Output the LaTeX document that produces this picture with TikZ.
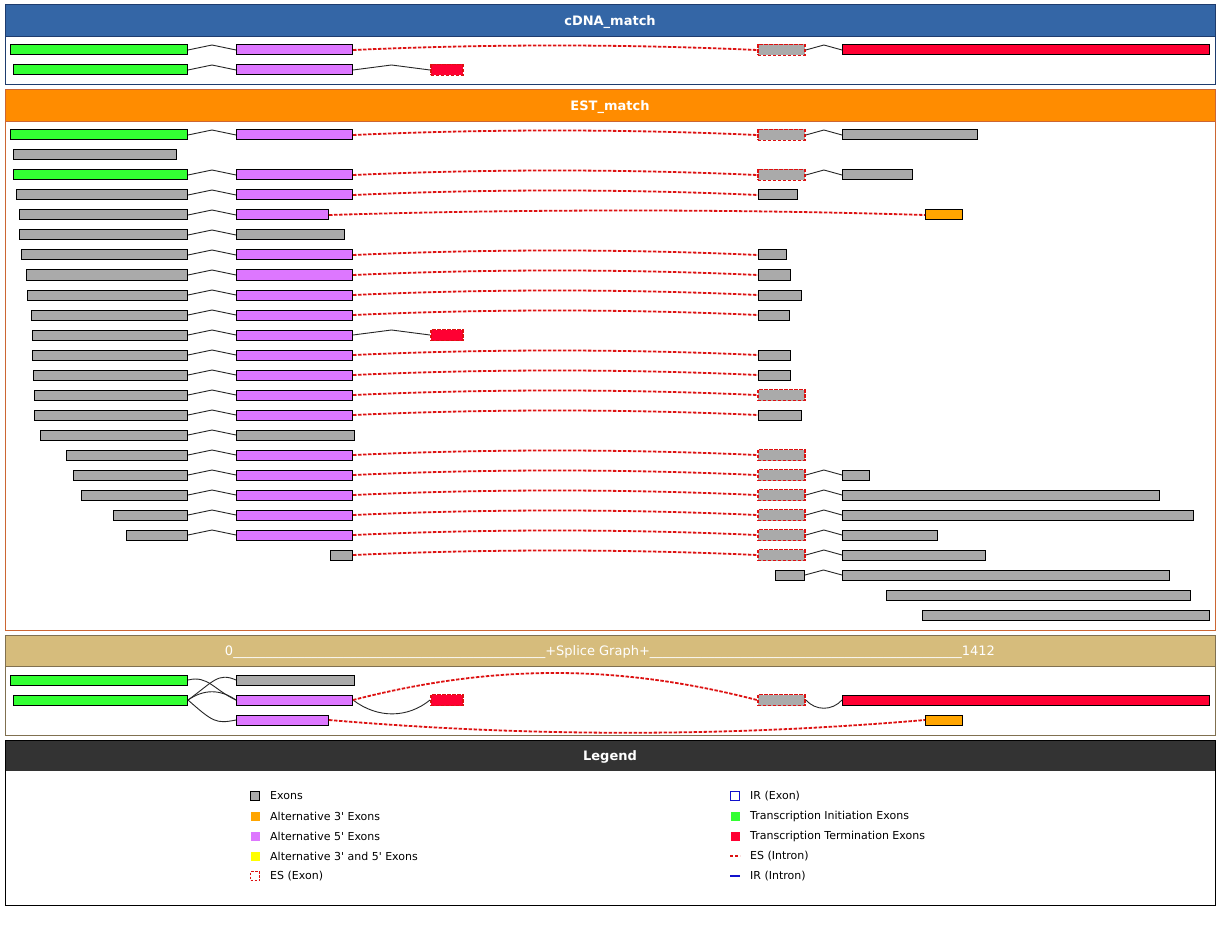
\documentclass[tikz,border=0pt]{standalone}
\usepackage{fontspec}
\setmainfont{DejaVu Sans}
\usetikzlibrary{calc}
\definecolor{hdrblue}{RGB}{52,102,166}
\definecolor{bordblue}{RGB}{30,60,110}
\definecolor{hdrorange}{RGB}{255,140,0}
\definecolor{bordorange}{RGB}{204,102,51}
\definecolor{hdrtan}{RGB}{214,188,124}
\definecolor{bordtan}{RGB}{128,112,80}
\definecolor{hdrdark}{RGB}{51,51,51}
\definecolor{exgreen}{RGB}{51,255,51}
\definecolor{expink}{RGB}{221,119,255}
\definecolor{exred}{RGB}{255,0,51}
\definecolor{exgrey}{RGB}{170,170,170}
\definecolor{exorange}{RGB}{255,165,0}
\definecolor{exyellow}{RGB}{255,255,0}
\definecolor{esred}{RGB}{221,17,17}
\definecolor{irblue}{RGB}{17,17,204}
\tikzset{
  exon/.style={draw=black, line width=1pt, inner sep=0pt, minimum height=10pt, anchor=west},
  exg/.style={exon, fill=exgreen},
  exp/.style={exon, fill=expink},
  exr/.style={exon, fill=exred},
  exgr/.style={exon, fill=exgrey},
  exo/.style={exon, fill=exorange},
  esbox/.style={inner sep=0pt, minimum height=11pt, anchor=west, draw=esred, line width=1.8pt, dash pattern=on 3.5pt off 1.5pt},
  esg/.style={esbox, fill=exgrey},
  esr/.style={esbox, fill=exred},
  intron/.style={draw=black!85, line width=0.9pt},
  esintron/.style={draw=esred, line width=1.8pt, dash pattern=on 3.5pt off 1.5pt},
  hdrtext/.style={text=white, font=\fontsize{13}{15}\selectfont\bfseries},
  legtext/.style={anchor=west, inner sep=0pt, font=\fontsize{11}{13}\selectfont},
  legbox/.style={inner sep=0pt, minimum width=9pt, minimum height=9pt},
}
\newcommand\ex[5]{\node[#2, minimum width=#4-#3] (#1) at (#3,#5) {};}
\newcommand\intr[2]{\draw[intron] (#1.east) -- ($(#1.east)!0.5!(#2.west)+(0,-5)$) -- (#2.west);}
\newcommand\esin[2]{\draw[esintron] (#1.east) .. controls ($(#1.east)!0.33!(#2.west)+(0,-6)$) and ($(#1.east)!0.67!(#2.west)+(0,-6)$) .. (#2.west);}
\newcommand\usc{\_\_\_\_\_\_\_\_}
\begin{document}
\begin{tikzpicture}[x=1pt, y=-1pt]
\useasboundingbox (0,0) rectangle (1220,925);
\fill[white] (0,0) rectangle (1220,925);
% ---------- cDNA panel
\fill[white] (5,5) rectangle (1215,85);
\fill[hdrblue] (5,5) rectangle (1215,36);
\draw[bordblue, line width=1pt] (5,5) rectangle (1215,85);
\draw[bordblue, line width=0.8pt] (5,36) -- (1215,36);
\node[hdrtext] (hc) at (610,22) {cDNA\_match};
\ex{c1a}{exg}{10}{187}{50}
\ex{c1b}{exp}{236}{352}{50}
\ex{c1c}{esg}{757}{804}{50}
\ex{c1d}{exr}{842}{1209}{50}
\intr{c1a}{c1b} \esin{c1b}{c1c} \intr{c1c}{c1d}
\ex{c2a}{exg}{13}{187}{70}
\ex{c2b}{exp}{236}{352}{70}
\ex{c2c}{esr}{430}{462}{70}
\intr{c2a}{c2b} \intr{c2b}{c2c}
% ---------- EST panel
\fill[white] (5,90) rectangle (1215,630);
\fill[hdrorange] (5,90) rectangle (1215,121);
\draw[bordorange, line width=1pt] (5,90) rectangle (1215,630);
\draw[bordorange, line width=0.8pt] (5,121) -- (1215,121);
\node[hdrtext] (he) at (610,107) {EST\_match};
% row 1
\ex{e1a}{exg}{10}{187}{135}\ex{e1b}{exp}{236}{352}{135}\ex{e1c}{esg}{757}{804}{135}\ex{e1d}{exgr}{842}{977}{135}
\intr{e1a}{e1b}\esin{e1b}{e1c}\intr{e1c}{e1d}
% row 2
\ex{e2a}{exgr}{13}{176}{155}
% row 3
\ex{e3a}{exg}{13}{187}{175}\ex{e3b}{exp}{236}{352}{175}\ex{e3c}{esg}{757}{804}{175}\ex{e3d}{exgr}{842}{912}{175}
\intr{e3a}{e3b}\esin{e3b}{e3c}\intr{e3c}{e3d}
% row 4
\ex{e4a}{exgr}{16}{187}{195}\ex{e4b}{exp}{236}{352}{195}\ex{e4c}{exgr}{758}{797}{195}
\intr{e4a}{e4b}\esin{e4b}{e4c}
% row 5
\ex{e5a}{exgr}{19}{187}{215}\ex{e5b}{exp}{236}{328}{215}\ex{e5c}{exo}{925}{962}{215}
\intr{e5a}{e5b}\esin{e5b}{e5c}
% row 6
\ex{e6a}{exgr}{19}{187}{235}\ex{e6b}{exgr}{236}{344}{235}
\intr{e6a}{e6b}
% row 7
\ex{e7a}{exgr}{21}{187}{255}\ex{e7b}{exp}{236}{352}{255}\ex{e7c}{exgr}{758}{786}{255}
\intr{e7a}{e7b}\esin{e7b}{e7c}
% row 8
\ex{e8a}{exgr}{26}{187}{275}\ex{e8b}{exp}{236}{352}{275}\ex{e8c}{exgr}{758}{790}{275}
\intr{e8a}{e8b}\esin{e8b}{e8c}
% row 9
\ex{e9a}{exgr}{27}{187}{295}\ex{e9b}{exp}{236}{352}{295}\ex{e9c}{exgr}{758}{801}{295}
\intr{e9a}{e9b}\esin{e9b}{e9c}
% row 10
\ex{e10a}{exgr}{31}{187}{315}\ex{e10b}{exp}{236}{352}{315}\ex{e10c}{exgr}{758}{789}{315}
\intr{e10a}{e10b}\esin{e10b}{e10c}
% row 11
\ex{e11a}{exgr}{32}{187}{335}\ex{e11b}{exp}{236}{352}{335}\ex{e11c}{esr}{430}{462}{335}
\intr{e11a}{e11b}\intr{e11b}{e11c}
% row 12
\ex{e12a}{exgr}{32}{187}{355}\ex{e12b}{exp}{236}{352}{355}\ex{e12c}{exgr}{758}{790}{355}
\intr{e12a}{e12b}\esin{e12b}{e12c}
% row 13
\ex{e13a}{exgr}{33}{187}{375}\ex{e13b}{exp}{236}{352}{375}\ex{e13c}{exgr}{758}{790}{375}
\intr{e13a}{e13b}\esin{e13b}{e13c}
% row 14
\ex{e14a}{exgr}{34}{187}{395}\ex{e14b}{exp}{236}{352}{395}\ex{e14c}{esg}{757}{804}{395}
\intr{e14a}{e14b}\esin{e14b}{e14c}
% row 15
\ex{e15a}{exgr}{34}{187}{415}\ex{e15b}{exp}{236}{352}{415}\ex{e15c}{exgr}{758}{801}{415}
\intr{e15a}{e15b}\esin{e15b}{e15c}
% row 16
\ex{e16a}{exgr}{40}{187}{435}\ex{e16b}{exgr}{236}{354}{435}
\intr{e16a}{e16b}
% row 17
\ex{e17a}{exgr}{66}{187}{455}\ex{e17b}{exp}{236}{352}{455}\ex{e17c}{esg}{757}{804}{455}
\intr{e17a}{e17b}\esin{e17b}{e17c}
% row 18
\ex{e18a}{exgr}{73}{187}{475}\ex{e18b}{exp}{236}{352}{475}\ex{e18c}{esg}{757}{804}{475}\ex{e18d}{exgr}{842}{869}{475}
\intr{e18a}{e18b}\esin{e18b}{e18c}\intr{e18c}{e18d}
% row 19
\ex{e19a}{exgr}{81}{187}{495}\ex{e19b}{exp}{236}{352}{495}\ex{e19c}{esg}{757}{804}{495}\ex{e19d}{exgr}{842}{1159}{495}
\intr{e19a}{e19b}\esin{e19b}{e19c}\intr{e19c}{e19d}
% row 20
\ex{e20a}{exgr}{113}{187}{515}\ex{e20b}{exp}{236}{352}{515}\ex{e20c}{esg}{757}{804}{515}\ex{e20d}{exgr}{842}{1193}{515}
\intr{e20a}{e20b}\esin{e20b}{e20c}\intr{e20c}{e20d}
% row 21
\ex{e21a}{exgr}{126}{187}{535}\ex{e21b}{exp}{236}{352}{535}\ex{e21c}{esg}{757}{804}{535}\ex{e21d}{exgr}{842}{937}{535}
\intr{e21a}{e21b}\esin{e21b}{e21c}\intr{e21c}{e21d}
% row 22
\ex{e22a}{exgr}{330}{352}{555}\ex{e22b}{esg}{757}{804}{555}\ex{e22c}{exgr}{842}{985}{555}
\esin{e22a}{e22b}\intr{e22b}{e22c}
% row 23
\ex{e23a}{exgr}{775}{804}{575}\ex{e23b}{exgr}{842}{1169}{575}
\intr{e23a}{e23b}
% row 24
\ex{e24a}{exgr}{886}{1190}{595}
% row 25
\ex{e25a}{exgr}{922}{1209}{615}
% ---------- Splice graph panel
\fill[white] (5,635) rectangle (1215,735);
\fill[hdrtan] (5,635) rectangle (1215,666);
\draw[bordtan, line width=1pt] (5,635) rectangle (1215,735);
\draw[bordtan, line width=0.8pt] (5,666) -- (1215,666);
\node[text=white, font=\fontsize{13}{15}\selectfont] (hs) at (610,652) {0\usc\usc\usc\usc\usc\usc+Splice Graph+\usc\usc\usc\usc\usc\usc1412};
\ex{s1a}{exg}{10}{187}{680}
\ex{s1b}{exgr}{236}{354}{680}
\ex{s2a}{exg}{13}{187}{700}
\ex{s2b}{exp}{236}{352}{700}
\ex{s2c}{esr}{430}{462}{700}
\ex{s2d}{esg}{757}{804}{700}
\ex{s2e}{exr}{842}{1209}{700}
\ex{s3b}{exp}{236}{328}{720}
\ex{s3c}{exo}{925}{962}{720}
\draw[intron] (s1a.east) .. controls +(20,-5) and +(-22,-10) .. (s2b.west);
\draw[intron] (s2a.east) .. controls +(25,-18) and +(-18,-8) .. (s1b.west);
\draw[intron] (s2a.east) .. controls +(16,-11) and +(-16,-11) .. (s2b.west);
\draw[intron] (s2a.east) .. controls +(25,22) and +(-20,4) .. (s3b.west);
\draw[intron] (s2b.east) .. controls +(25,19) and +(-22,18) .. (s2c.west);
\draw[esintron] (s2b.east) .. controls +(140,-36) and +(-140,-36) .. (s2d.west);
\draw[intron] (s2d.east) .. controls +(10,11) and +(-10,11) .. (s2e.west);
\draw[esintron] (s3b.east) .. controls +(200,17) and +(-200,17) .. (s3c.west);
% ---------- Legend panel
\fill[white] (5,740) rectangle (1215,905);
\fill[hdrdark] (5,740) rectangle (1215,771);
\draw[black, line width=1pt] (5,740) rectangle (1215,905);
\node[hdrtext] (hl) at (610,757) {Legend};
\node[legbox, draw=black, line width=0.9pt, fill=exgrey] (l1) at (255,796) {};
\node[legtext] (t1) at (270,796) {Exons};
\node[legbox, fill=exorange] (l2) at (255,816) {};
\node[legtext] (t2) at (270,816) {Alternative 3\textquotesingle{} Exons};
\node[legbox, fill=expink] (l3) at (255,836) {};
\node[legtext] (t3) at (270,836) {Alternative 5\textquotesingle{} Exons};
\node[legbox, fill=exyellow] (l4) at (255,856) {};
\node[legtext] (t4) at (270,856) {Alternative 3\textquotesingle{} and 5\textquotesingle{} Exons};
\node[legbox, draw=esred, line width=1.5pt, dash pattern=on 2.5pt off 1.5pt, fill=white] (l5) at (255,876) {};
\node[legtext] (t5) at (270,876) {ES (Exon)};
\node[legbox, draw=irblue, line width=1.6pt, fill=white] (l6) at (735,796) {};
\node[legtext] (t6) at (750,796) {IR (Exon)};
\node[legbox, fill=exgreen] (l7) at (735,816) {};
\node[legtext] (t7) at (750,816) {Transcription Initiation Exons};
\node[legbox, fill=exred] (l8) at (735,836) {};
\node[legtext] (t8) at (750,836) {Transcription Termination Exons};
\coordinate (l9a) at (730,856); \coordinate (l9b) at (740,856);
\draw[esintron, dash pattern=on 3pt off 2pt] (l9a) -- (l9b);
\node[legtext] (t9) at (750,856) {ES (Intron)};
\coordinate (l10a) at (730,876); \coordinate (l10b) at (740,876);
\draw[irblue, line width=1.8pt] (l10a) -- (l10b);
\node[legtext] (t10) at (750,876) {IR (Intron)};
\end{tikzpicture}
\end{document}
